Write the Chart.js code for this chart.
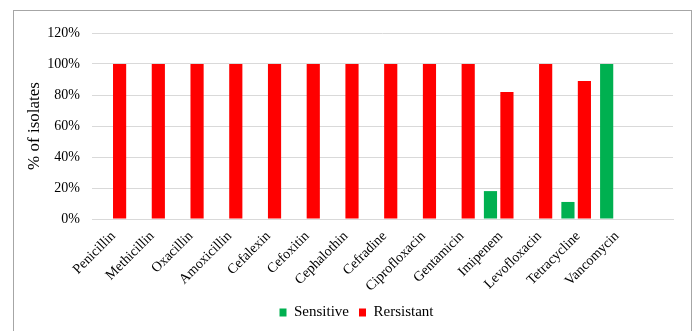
<!DOCTYPE html>
<html>
<head>
<meta charset="utf-8">
<script src="https://cdn.jsdelivr.net/npm/chart.js@4/dist/chart.umd.min.js"></script>
<style>
  html, body { margin: 0; padding: 0; background: #fff; }
  #wrap { position: relative; width: 697px; height: 331px; }
  #frame { position: absolute; left: 13px; top: 10px; width: 679px; height: 330px; border: 1px solid #a6a6a6; box-sizing: border-box; pointer-events: none; }
</style>
</head>
<body>
<div id="wrap">
  <canvas id="c" width="697" height="331"></canvas>
  <div id="frame"></div>
</div>
<script>
const categories = ["Penicillin", "Methicillin", "Oxacillin", "Amoxicillin", "Cefalexin", "Cefoxitin", "Cephalothin", "Cefradine", "Ciprofloxacin", "Gentamicin", "Imipenem", "Levofloxacin", "Tetracycline", "Vancomycin", ""];
const sensitive = [0, 0, 0, 0, 0, 0, 0, 0, 0, 0, 18, 0, 11, 100, null];
const resistant = [100, 100, 100, 100, 100, 100, 100, 100, 100, 100, 82, 100, 89, 0, null];
const yTicks = [0, 20, 40, 60, 80, 100, 120];

const serif = "'Liberation Serif', 'Times New Roman', serif";

const shiftLegend = {
  id: 'shiftLegend',
  afterLayout(chart) {
    if (chart.legend) { chart.legend.left += 10; chart.legend.right += 10; }
  }
};

new Chart(document.getElementById('c'), {
  type: 'bar',
  data: {
    labels: categories,
    datasets: [
      { label: 'Sensitive', data: sensitive, backgroundColor: '#00B050', borderWidth: 0, categoryPercentage: 0.85, barPercentage: 0.8 },
      { label: 'Rersistant', data: resistant, backgroundColor: '#FF0000', borderWidth: 0, categoryPercentage: 0.85, barPercentage: 0.8 }
    ]
  },
  plugins: [shiftLegend],
  options: {
    responsive: false,
    animation: false,
    devicePixelRatio: 1,
    layout: { padding: { left: 20, right: 24, top: 33, bottom: 1 } },
    plugins: {
      tooltip: { enabled: false },
      legend: {
        position: 'bottom',
        labels: {
          font: { family: serif, size: 15 },
          color: '#000',
          boxWidth: 7,
          boxHeight: 8,
          padding: 10
        }
      }
    },
    scales: {
      x: {
        grid: { display: false },
        border: { color: '#d9d9d9' },
        ticks: {
          font: { family: serif, size: 14 },
          color: '#000',
          maxRotation: 45,
          minRotation: 45,
          autoSkip: false,
          padding: 1,
          labelOffset: 2
        },
        afterFit: (s) => { s.height = 76; }
      },
      y: {
        min: 0,
        max: 120,
        afterBuildTicks: (s) => { s.ticks = yTicks.map(v => ({ value: v })); },
        grid: { color: '#d9d9d9', drawTicks: false },
        border: { display: false },
        ticks: {
          font: { family: serif, size: 14 },
          color: '#000',
          padding: 12,
          callback: (v) => v + '%'
        },
        title: {
          display: true,
          text: '% of isolates',
          font: { family: serif, size: 17 },
          color: '#000',
          padding: 4
        },
        afterFit: (s) => { s.width = 72; }
      }
    }
  }
});
</script>
</body>
</html>
